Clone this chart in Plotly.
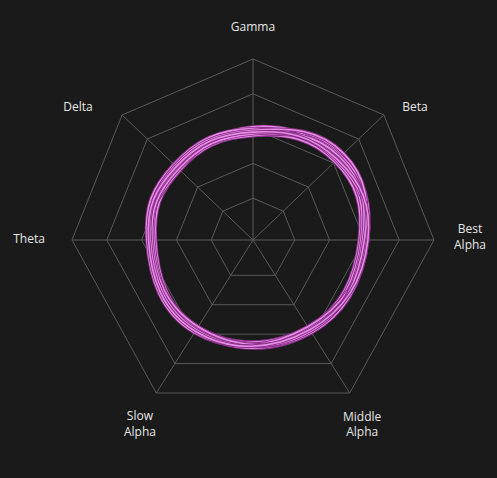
import plotly.graph_objects as go

# Axis categories and their angular positions (degrees, clockwise from top)
categories = ["Gamma", "Beta", "Best<br>Alpha", "Middle<br>Alpha", "Slow<br>Alpha", "Theta", "Delta"]
axis_angles = [0, 46.3, 90, 147.7, 212.3, 270, 313.7]

# Label placement (angle in degrees, radius in data units)
label_angles = [0, 50.8, 89.5, 149.5, 211.4, 270, 307]
label_radii = [117.8, 116.1, 120.7, 119.6, 120.7, 124.7, 121.9]

# Radial grid values
tick_values = [20, 40, 60, 80, 100]
radial_min = -4
radial_max = 126  # extra room so the labels sit inside the polar range

# Series values (order: Gamma, Beta, Best Alpha, Middle Alpha, Slow Alpha, Theta, Delta)
s1 = [56, 61, 57, 55, 55, 52, 54]
s2 = [59, 64, 61, 57, 55, 54, 57]
s3 = [58, 67, 60, 59, 58, 56, 56]
s4 = [61, 63, 58, 56, 57, 55, 54]
s5 = [56, 66, 62, 59, 56, 53, 56]
s6 = [60, 62, 61, 55, 59, 57, 59]
s7 = [57, 65, 59, 58, 55, 54, 55]
s8 = [59, 68, 60, 58, 57, 55, 58]
s9 = [58, 63, 62, 57, 58, 56, 57]
series = [s1, s2, s3, s4, s5, s6, s7, s8, s9]

BG = "#1a1a1a"
GRID = "#5a5a5a"
TEXT = "#e6e6e6"

fig = go.Figure()

closed_angles = axis_angles + [axis_angles[0]]

# polygon rings
for t in tick_values:
    fig.add_trace(go.Scatterpolar(
        r=[t] * len(closed_angles), theta=closed_angles, mode="lines",
        line=dict(color=GRID, width=1), hoverinfo="skip", showlegend=False))

# spokes
for a in axis_angles:
    fig.add_trace(go.Scatterpolar(
        r=[radial_min, tick_values[-1]], theta=[a, a], mode="lines",
        line=dict(color=GRID, width=1), hoverinfo="skip", showlegend=False))

# series
for s in series:
    rr = s + [s[0]]
    fig.add_trace(go.Scatterpolar(
        r=rr, theta=closed_angles, mode="lines",
        line=dict(color="#8a2f8a", width=3.4, shape="spline", smoothing=1.3),
        hoverinfo="skip", showlegend=False))
    fig.add_trace(go.Scatterpolar(
        r=rr, theta=closed_angles, mode="lines",
        line=dict(color="#e68ee6", width=1.6, shape="spline", smoothing=1.3),
        showlegend=False))

# category labels
fig.add_trace(go.Scatterpolar(
    r=label_radii, theta=label_angles, mode="text", text=categories,
    textposition="middle center", cliponaxis=False,
    textfont=dict(family="Open Sans", size=12, color=TEXT),
    hoverinfo="skip", showlegend=False))

W, H = 497, 478
cx, cy = 253, 238
R = 181 * (radial_max - radial_min) / (tick_values[-1] - radial_min)

fig.update_layout(
    width=W, height=H,
    margin=dict(l=0, r=0, t=0, b=0),
    paper_bgcolor=BG, plot_bgcolor=BG,
    font=dict(family="Open Sans", size=12, color=TEXT),
    polar=dict(
        bgcolor=BG,
        domain=dict(x=[(cx - R) / W, (cx + R) / W], y=[(cy - R) / H, (cy + R) / H]),
        radialaxis=dict(range=[radial_min, radial_max], visible=False, showgrid=False),
        angularaxis=dict(
            type="linear", rotation=90, direction="clockwise",
            showgrid=False, showline=False, ticks="", showticklabels=False,
        ),
    ),
)

fig.write_html("out.html")
